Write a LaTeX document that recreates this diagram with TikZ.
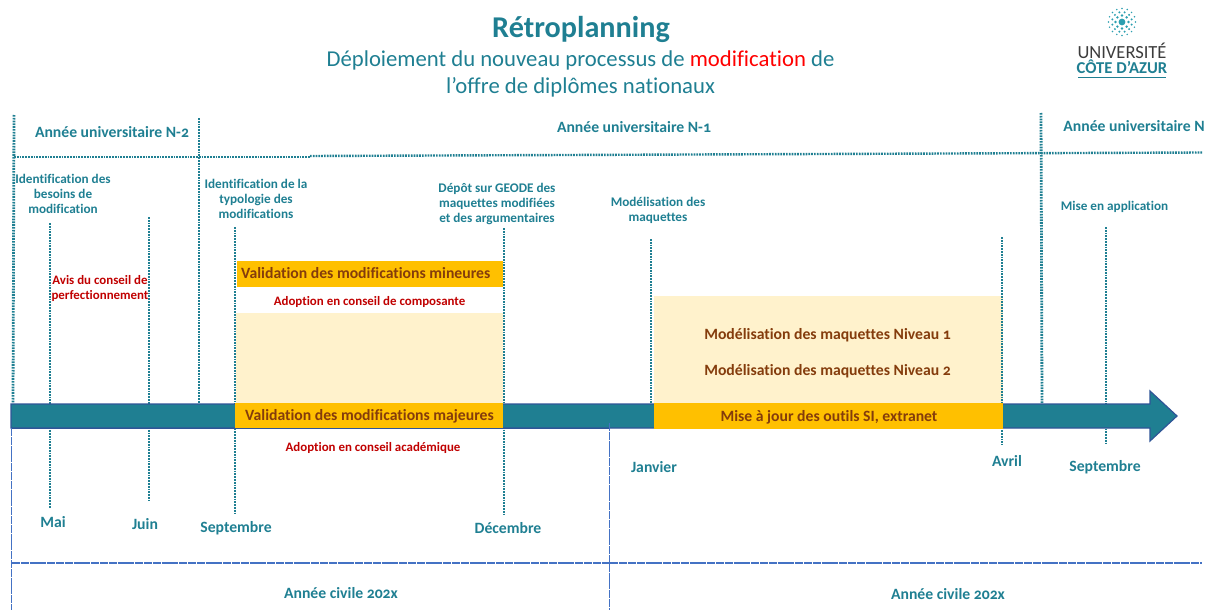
\documentclass[tikz,border=0pt]{standalone}
\usepackage{fontspec}
\setmainfont[Numbers=OldStyle,Ligatures=NoCommon]{Carlito}
\definecolor{teal1}{HTML}{1F7F92}
\definecolor{barline}{HTML}{2F5597}
\definecolor{orange1}{HTML}{FFC000}
\definecolor{cream}{HTML}{FFF2CC}
\definecolor{brown1}{HTML}{843C0C}
\definecolor{red1}{HTML}{C00000}
\definecolor{blue1}{HTML}{4472C4}
\definecolor{logodark}{HTML}{3C3C3C}
\definecolor{logodot}{HTML}{2C9FB0}
\tikzset{
  vdots/.style={teal1,line width=2.8pt,dash pattern=on 1.7pt off 1.1pt},
  hdots/.style={teal1,line width=2.4pt,dash pattern=on 1.7pt off 1.1pt},
  civil/.style={blue1,line width=1.7pt,dash pattern=on 8pt off 0.8pt},
  lab/.style={text=teal1,align=center,inner sep=0pt},
  lab11/.style={lab,font=\fontsize{13.2}{15}\selectfont\bfseries},
  lab14/.style={lab,font=\fontsize{15.7}{18}\selectfont\bfseries},
  redt/.style={text=red1,font=\fontsize{12.9}{15.5}\selectfont\bfseries,align=center,inner sep=0pt},
  brownt/.style={text=brown1,font=\fontsize{15.7}{18}\selectfont\bfseries,inner sep=0pt},
}
\begin{document}
\begin{tikzpicture}[x=1pt,y=-1pt]
\useasboundingbox (0,0) rectangle (1205,610);
% title
\node[text=teal1,font=\fontsize{30.2}{32}\selectfont\bfseries,inner sep=0pt] (title) at (581,29) {Rétroplanning};
\node[text=teal1,font=\fontsize{22.7}{27}\selectfont,align=center,inner sep=0pt] (subtitle) at (580.5,74) {Déploiement du nouveau processus de \textcolor{red}{modification} de\\ l’offre de diplômes nationaux};
% logo
\fill[logodot] (1122,22) circle (3.4pt);
\foreach \r/\n/\s/\o in {6.5/8/1.3/0,10/12/1.1/15,13.5/16/0.85/0}{
  \foreach \i in {1,...,\n}{
    \fill[logodot] ({1122+\r*cos(\o+360*\i/\n)},{22+\r*sin(\o+360*\i/\n)}) circle (\s pt);
  }
}
\node[text=logodark,font=\fontsize{18.5}{18}\selectfont,inner sep=0pt] (logoA) at (1122,50.5) {UNIVERSITÉ};
\node[text=teal1,font=\fontsize{16.6}{18}\selectfont\bfseries,inner sep=0pt] (logoB) at (1122,67) {CÔTE D’AZUR};
\draw[teal1,line width=0.8pt] (1078,77) -- (1166,77);
% fills
\fill[cream] (236,313) rectangle (503,404);
\fill[cream] (654,296) rectangle (1003,404);
\fill[orange1] (237,261) rectangle (503,287);
% dotted frame
\draw[vdots] (14,115) -- (13,403);
\draw[vdots] (199,118) -- (199,403);
\draw[vdots] (1041,113) -- (1042,403);
\draw[hdots] (14,157) -- (310,157);
\draw[hdots] (310,156) -- (1202,152.5);
% tick lines
\foreach \x/\a/\b in {50/223/508,149/217/501,235/227/513,504/228/515,1002/237/445,1106/227/444}{
  \draw[vdots] (\x,\a) -- (\x,\b);
}
\draw[vdots] (651,239) -- (651,403);
% arrow
\draw[fill=teal1,draw=barline,line width=1.2pt,line join=miter]
  (11,404) -- (1150,404) -- (1150,391) -- (1177,416) -- (1150,441) -- (1150,428) -- (11,428) -- cycle;
\fill[orange1] (235,403) rectangle (503,428);
\fill[orange1] (654,403) rectangle (1003,428.5);
\draw[barline,line width=1pt] (11,428.3) -- (610,428.3);
% civil lines
\draw[civil] (11.5,428) -- (11.5,610);
\draw[civil] (609.5,423) -- (609.5,610);
\draw[civil] (12,563) -- (1202,563);
% labels
\node[lab14] (n2) at (112,132) {Année universitaire N-2};
\node[lab14] (n1) at (634,127) {Année universitaire N-1};
\node[lab14] (n0) at (1134,126) {Année universitaire N};
\node[lab11] (a) at (63,194) {Identification des\\besoins de\\modification};
\node[lab11] (b) at (256,199) {Identification de la\\typologie des\\modifications};
\node[lab11] (c) at (497,204) {Dépôt sur GEODE des\\maquettes modifiées\\et des argumentaires};
\node[lab11] (d) at (658,210) {Modélisation des\\maquettes};
\node[lab11] (e) at (1114.5,206.5) {Mise en application};
\node[redt] (f) at (100,288.5) {Avis du conseil de\\perfectionnement};
\node[brownt,anchor=west] (g) at (241,273.5) {Validation des modifications mineures};
\node[redt] (h) at (369.5,301.5) {Adoption en conseil de composante};
\node[brownt] (i) at (369.5,416) {Validation des modifications majeures};
\node[redt] (j) at (373,447.5) {Adoption en conseil académique};
\node[brownt] (k) at (827.5,335) {Modélisation des maquettes Niveau 1};
\node[brownt] (l) at (827.5,371) {Modélisation des maquettes Niveau 2};
\node[brownt] (m) at (829,417) {Mise à jour des outils SI, extranet};
\node[lab14] (o) at (53,522) {Mai};
\node[lab14] (p) at (145,524) {Juin};
\node[lab14] (q) at (236,528) {Septembre};
\node[lab14] (r) at (508,528) {Décembre};
\node[lab14] (s) at (654,467) {Janvier};
\node[lab14] (t) at (1007,461) {Avril};
\node[lab14] (u) at (1105,467) {Septembre};
\node[lab14] (v) at (341,593) {Année civile 202x};
\node[lab14] (w) at (948,594) {Année civile 202x};
\end{tikzpicture}
\end{document}
